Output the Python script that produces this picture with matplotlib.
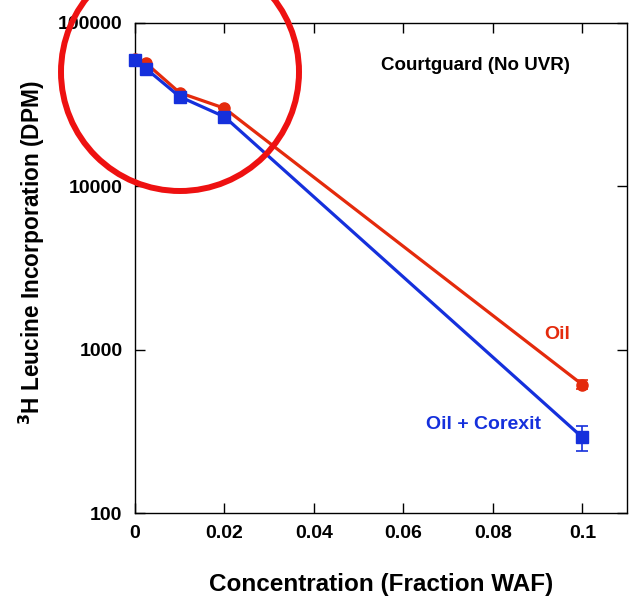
import numpy as np
import matplotlib.pyplot as plt
from matplotlib.patches import Ellipse

plt.rcParams['font.family'] = ['Liberation Sans', 'DejaVu Sans']
plt.rcParams['font.weight'] = 'bold'

# Leucine incorporation vs WAF fraction
conc = [0.0, 0.0025, 0.01, 0.02, 0.1]
oil = [60000, 56500, 37300, 30000, 610]
oil_err = [0, 0, 0, 0, 40]
oil_corexit = [59500, 52300, 35300, 26600, 290]
oil_corexit_err = [0, 0, 0, 0, 50]

x_ticks = [0, 0.02, 0.04, 0.06, 0.08, 0.1]
x_ticklabels = ['0', '0.02', '0.04', '0.06', '0.08', '0.1']
y_ticks = [100, 1000, 10000, 100000]
y_ticklabels = ['100', '1000', '10000', '100000']

red = '#e42a0c'
blue = '#1530dc'

fig = plt.figure(figsize=(6.29, 6.0), dpi=100)
ax = fig.add_axes([0.2146, 0.145, 0.7825, 0.817])

for c in (ax.errorbar(conc, oil, yerr=oil_err, color=red, lw=2.3, marker='o',
                      ms=8, capsize=4, elinewidth=1.2, capthick=1.2, zorder=3),
          ax.errorbar(conc, oil_corexit, yerr=oil_corexit_err, color=blue,
                      lw=2.3, marker='s', ms=8.5, capsize=4, elinewidth=1.2,
                      capthick=1.2, zorder=4)):
    for art in c.get_children():
        art.set_clip_on(False)

ax.set_yscale('log')
ax.set_xlim(0, 0.11)
ax.set_ylim(100, 100000)
ax.set_xticks(x_ticks)
ax.set_xticklabels(x_ticklabels)
ax.set_yticks(y_ticks)
ax.set_yticklabels(y_ticklabels)
ax.minorticks_off()
ax.tick_params(direction='in', length=7, width=1, top=True, right=True,
               labelsize=14)
ax.tick_params(axis='y', pad=9)
ax.tick_params(axis='x', pad=9)
for lab in ax.get_xticklabels() + ax.get_yticklabels():
    lab.set_fontweight('bold')
for sp in ax.spines.values():
    sp.set_linewidth(1)

ax.set_xlabel('Concentration (Fraction WAF)', fontsize=17.5, fontweight='bold',
              labelpad=22)
ax.set_ylabel(r'$^{\mathbf{3}}$H Leucine Incorporation (DPM)', fontsize=16.3,
              fontweight='bold', labelpad=8)
ax.yaxis.label.set_y(0.53)

ax.text(0.0972, 55000, 'Courtguard (No UVR)', fontsize=13.5, fontweight='bold',
        ha='right', va='center')
ax.text(0.0944, 1240, 'Oil', fontsize=14, fontweight='bold', color=red,
        ha='center', va='center')
ax.text(0.078, 348, 'Oil + Corexit', fontsize=14, fontweight='bold',
        color=blue, ha='center', va='center')

# highlight ring around the low-concentration points
ring = Ellipse((180 / 629, 1 - 72 / 600), 238 / 629, 238 / 600,
               transform=fig.transFigure, fill=False, edgecolor='#ee1111',
               lw=4.3, clip_on=False, zorder=10)
fig.patches.append(ring)

fig.savefig('out.png', dpi=100)
